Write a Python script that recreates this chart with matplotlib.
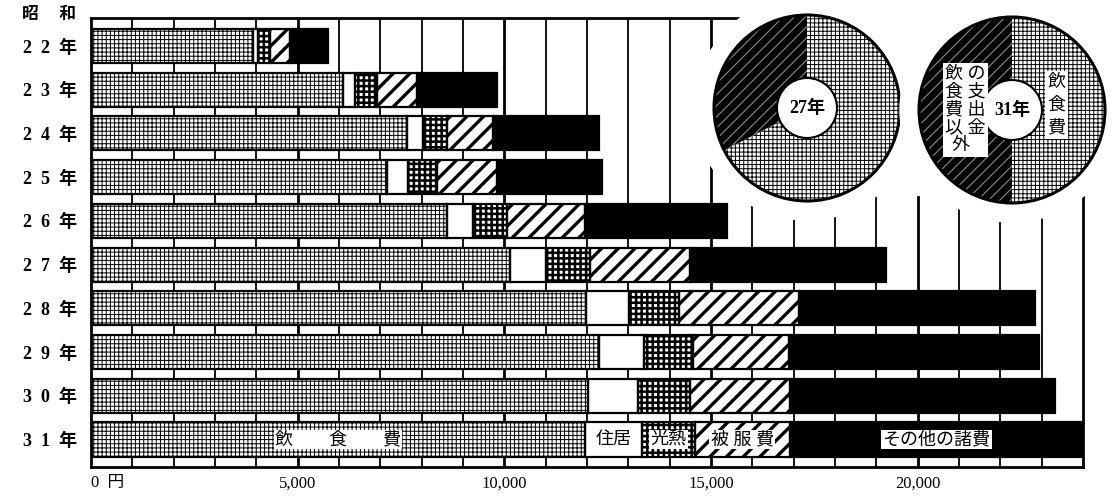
import numpy as np
import matplotlib
matplotlib.use("Agg")
import matplotlib.pyplot as plt
from matplotlib.patches import Circle

plt.rcParams['font.family'] = ['Liberation Serif', 'Noto Sans CJK JP', 'DejaVu Sans']

# 昭和22〜31年 1世帯当り月平均消費支出（円）
years = ['2  2  年', '2  3  年', '2  4  年', '2  5  年', '2  6  年',
         '2  7  年', '2  8  年', '2  9  年', '3  0  年', '3  1  年']
food = [3920, 6100, 7650, 7160, 8610, 10140, 11980, 12290, 12030, 11950]
housing = [120, 290, 390, 510, 630, 870, 1040, 1090, 1210, 1380]
fuel = [290, 530, 580, 700, 820, 1060, 1210, 1190, 1260, 1280]
clothing = [480, 970, 1110, 1450, 1890, 2420, 2900, 2320, 2420, 2300]
other = [920, 1940, 2560, 2540, 3440, 4740, 5710, 6050, 6410, 7090]

seg_names = ['飲　　食　　費', '住居', '光熱', '被 服 費', 'その他の諸費']
xtick_vals = [0, 5000, 10000, 15000, 20000]
xtick_labels = ['0  円', '5,000', '10,000', '15,000', '20,000']

# 円グラフ（飲食費 / 飲食費以外の支出金, %）
pie27 = [67.5, 32.5]
pie31 = [50.0, 50.0]

W, H = 1115, 499
fig = plt.figure(figsize=(W / 100, H / 100), dpi=100)
ax = fig.add_axes([91 / W, 1 - 467 / H, (1083 - 91) / W, (467 - 18) / H])

y = np.arange(len(years))
bh = 0.78

# grid (lines right of the pies only start below them)
for gx in range(1000, 24000, 1000):
    top = 1.0 if gx < 16000 else (467 - 197) / 449
    ax.axvline(gx, ymax=top, color='k', lw=2.0 if gx % 5000 == 0 else 1.3, zorder=0)

styles = [  # face, hatch, hatch lw
    ('white', '++++', 0.7),
    ('white', None, 1.0),
    ('white', '+++', 1.8),
    ('white', '//', 2.4),
    ('black', None, 1.0),
]
data = [food, housing, fuel, clothing, other]
left = np.zeros(len(years))
for vals, (fc, hatch, hlw) in zip(data, styles):
    vals = np.array(vals)
    with plt.rc_context({'hatch.linewidth': hlw}):
        ax.barh(y, vals, left=left, height=bh, color=fc, edgecolor='k',
                hatch=hatch, linewidth=0, zorder=2)
    ax.barh(y, vals, left=left, height=bh, fill=False, edgecolor='k',
            linewidth=1.6, zorder=3)
    left += vals

# labels on the last bar
lefts31 = np.cumsum([0] + [d[-1] for d in data[:-1]])
for i, (nm, d) in enumerate(zip(seg_names, data)):
    cx = lefts31[i] + d[-1] / 2
    ax.text(cx, y[-1], nm, ha='center', va='center', fontsize=13,
            color='k', zorder=5,
            bbox=dict(boxstyle='square,pad=0.08', fc='white', ec='none'))

ax.set_xlim(0, 24000)
ax.set_ylim(9.63, -0.64)
ax.set_yticks(y)
ax.set_yticklabels(years, fontsize=13, fontweight='bold')
ax.set_xticks(xtick_vals)
ax.set_xticklabels(xtick_labels, fontsize=12)
ax.get_xticklabels()[0].set_ha('left')
ax.tick_params(length=0, pad=10, axis='y')
ax.tick_params(length=0, pad=6, axis='x')
for s in ax.spines.values():
    s.set_linewidth(2)
    s.set_zorder(4)
ax.spines['top'].set_bounds(0, 15800)
ax.spines['right'].set_bounds(3.4, 9.63)

fig.text(22 / W, 1 - 15 / H, '昭　 和', fontsize=12, fontweight='bold',
         va='center', ha='left')


def donut(cx, cy, vals, label):
    r = 93.0
    half = 125.0
    pa = fig.add_axes([(cx - half) / W, 1 - (cy + half) / H, 2 * half / W, 2 * half / H])
    pa.axis('off')
    lim = half / r
    pa.add_patch(Circle((0, 0), 112 / r, color='white', zorder=0))
    with plt.rc_context({'hatch.linewidth': 0.7}):
        wedges, _ = pa.pie(vals, startangle=90, counterclock=False, radius=1,
                           colors=['white', 'black'],
                           wedgeprops=dict(width=1 - 30 / r, linewidth=0, edgecolor='k'))
        wedges[0].set_hatch('++++')
    with plt.rc_context({'hatch.linewidth': 0.8}):
        w2, _ = pa.pie([vals[1], vals[0]], startangle=90 - 360 * vals[0] / 100,
                       counterclock=False, radius=1, colors=['none', 'none'],
                       wedgeprops=dict(width=1 - 30 / r, linewidth=0, edgecolor='#8a8a8a'))
        w2[0].set_hatch('///')
        w2[1].set_visible(False)
    pa.set_xlim(-lim, lim)
    pa.set_ylim(-lim, lim)
    pa.add_patch(Circle((0, 0), 1, fill=False, ec='k', lw=2.2, zorder=5))
    pa.add_patch(Circle((0, 0), 30 / r, fc='white', ec='k', lw=1.5, zorder=5))
    pa.text(0, 0, label, ha='center', va='center', fontsize=13,
            fontweight='bold', zorder=6)
    return pa


donut(807, 108, pie27, '27年')
p31 = donut(1012, 110, pie31, '31年')
box = dict(boxstyle='square,pad=0.15', fc='white', ec='none')
p31.text(0.48, 0.05, '飲\n食\n費', ha='center', va='center', fontsize=13,
         linespacing=1.45, zorder=7, bbox=box)
p31.text(-0.50, 0.0, '飲 の\n食 支\n費 出\n以 金\n外  ', ha='center', va='center',
         fontsize=13, linespacing=1.05, zorder=7, bbox=box)

fig.savefig('out.png', dpi=100, facecolor='white')
